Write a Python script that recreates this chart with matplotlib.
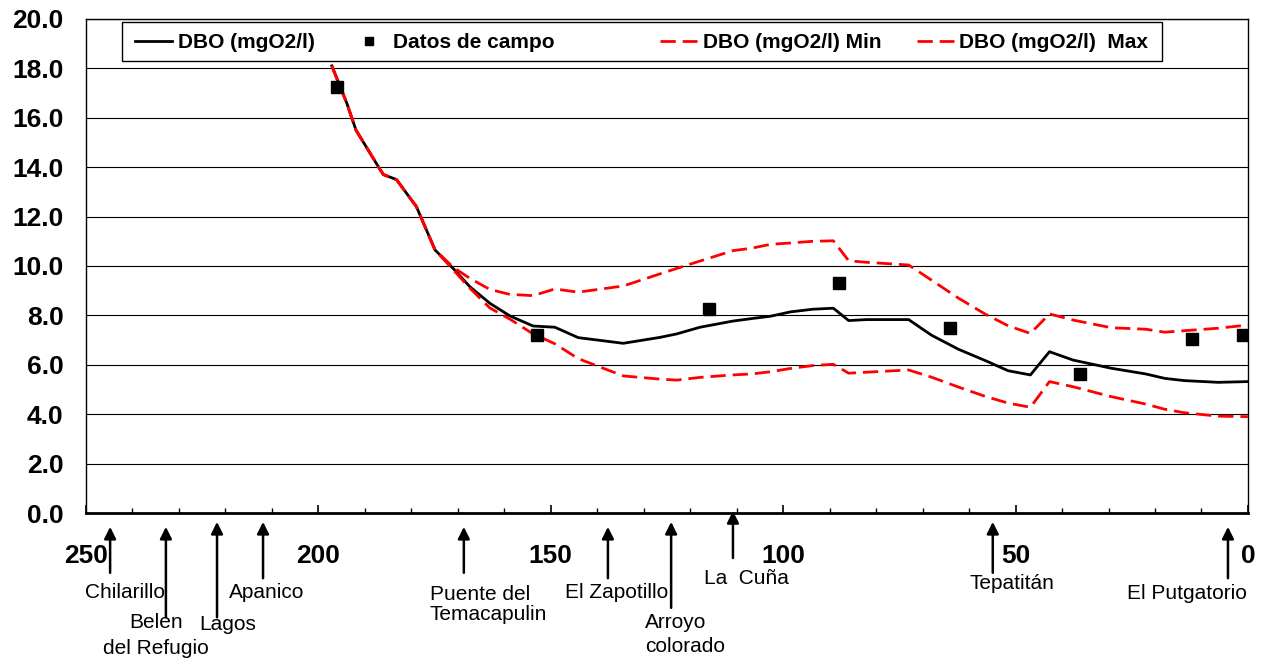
import numpy as np
import matplotlib
matplotlib.use('Agg')
import matplotlib.pyplot as plt
from matplotlib.ticker import MultipleLocator
from matplotlib.patches import Rectangle

plt.rcParams['font.family'] = ['Liberation Sans', 'DejaVu Sans']

# distancia (km) de los nodos del modelo
km = [197.1, 193.9, 191.9, 186.7, 186.0, 183.2, 178.9, 174.9, 171.0, 167.4,
      163.1, 158.8, 153.8, 149.1, 144.1, 134.4, 126.5, 122.9, 117.9, 110.8,
      106.8, 102.6, 98.5, 93.6, 89.2, 85.9, 82.1, 73.0, 68.1, 62.3,
      56.5, 51.6, 46.8, 42.7, 37.6, 29.4, 22.0, 17.9, 13.7, 6.4, 0.0]
dbo = [18.1, 16.6, 15.5, 13.9, 13.7, 13.5, 12.4, 10.65, 9.9, 9.16,
       8.49, 7.98, 7.57, 7.52, 7.1, 6.87, 7.11, 7.25, 7.52, 7.77,
       7.87, 7.97, 8.14, 8.25, 8.29, 7.79, 7.83, 7.83, 7.2, 6.63,
       6.17, 5.76, 5.59, 6.53, 6.19, 5.86, 5.63, 5.45, 5.36, 5.29, 5.32]
dbo_min = [18.1, 16.6, 15.5, 13.9, 13.7, 13.5, 12.4, 10.65, 9.85, 9.1,
           8.3, 7.85, 7.25, 6.85, 6.25, 5.55, 5.42, 5.38, 5.49, 5.59,
           5.63, 5.72, 5.85, 5.97, 6.02, 5.66, 5.7, 5.79, 5.5, 5.1,
           4.72, 4.45, 4.28, 5.32, 5.11, 4.71, 4.41, 4.2, 4.06, 3.92, 3.9]
dbo_max = [18.1, 16.6, 15.5, 13.9, 13.7, 13.5, 12.4, 10.65, 9.95, 9.5,
           9.05, 8.85, 8.8, 9.07, 8.94, 9.19, 9.68, 9.9, 10.2, 10.62,
           10.72, 10.88, 10.93, 11.0, 11.02, 10.21, 10.15, 10.04, 9.43, 8.7,
           8.05, 7.58, 7.27, 8.06, 7.81, 7.5, 7.44, 7.32, 7.38, 7.48, 7.61]

# datos de campo
campo_km = [196.0, 153.0, 116.0, 88.0, 64.1, 36.1, 12.0, 1.1]
campo = [17.25, 7.21, 8.26, 9.31, 7.49, 5.63, 7.04, 7.21]

# estaciones
est_nombre = ['Chilarillo', 'Belen\ndel Refugio', 'Lagos', 'Apanico',
              'Puente del\nTemacapulin', 'El Zapotillo', 'Arroyo\ncolorado',
              'La  Cuña', 'Tepatitán', 'El Putgatorio']
est_km = [244.8, 232.8, 221.8, 211.9, 168.7, 137.7, 124.1, 110.8, 54.9, 4.3]

# posicion de flechas y textos (fraccion de ejes) y alineacion
flecha_punta = [-0.028, -0.028, -0.018, -0.018, -0.028, -0.028, -0.018, 0.004, -0.018, -0.028]
flecha_cola = [-0.121, -0.211, -0.211, -0.132, -0.121, -0.132, -0.192, -0.091, -0.121, -0.132]
texto_km = [241.6, 235.0, 219.4, 211.1, 176.0, 135.8, 129.7, 108.0, 50.8, 13.1]
texto_y = [[-0.16], [-0.221, -0.275], [-0.226], [-0.16], [-0.164, -0.205], [-0.16],
           [-0.221, -0.271], [-0.133], [-0.143], [-0.162]]
texto_ha = ['center', 'center', 'center', 'center', 'left', 'center', 'left',
            'center', 'center', 'center']

fig = plt.figure(figsize=(12.64, 6.61), dpi=100)
ax = fig.add_axes([0.068, 0.2239, 0.9193, 0.7474])

l1, = ax.plot(km, dbo, color='black', lw=2, label='DBO (mgO2/l)', zorder=3)
l2, = ax.plot(campo_km, campo, 's', color='black', ms=8, label='Datos de campo', zorder=5)
l3, = ax.plot(km, dbo_min, color='red', lw=2, dashes=(5.5, 2.5), label='DBO (mgO2/l) Min', zorder=4)
l4, = ax.plot(km, dbo_max, color='red', lw=2, dashes=(5.5, 2.5), label='DBO (mgO2/l)  Max', zorder=4)

ax.set_xlim(250, 0)
ax.set_ylim(0, 20)
ax.xaxis.set_major_locator(MultipleLocator(50))
ax.xaxis.set_minor_locator(MultipleLocator(10))
ax.yaxis.set_major_locator(MultipleLocator(2))
ax.yaxis.set_major_formatter(plt.FormatStrFormatter('%.1f'))
ax.xaxis.set_major_formatter(plt.FormatStrFormatter('%d'))

ax.tick_params(axis='x', which='major', direction='in', length=6, width=1.2,
               pad=22, labelsize=19)
ax.tick_params(axis='x', which='minor', direction='in', length=3.5, width=1)
ax.tick_params(axis='y', length=0, pad=16, labelsize=19)
for lab in ax.get_xticklabels() + ax.get_yticklabels():
    lab.set_fontweight('bold')

ax.grid(axis='y', color='black', lw=0.8)
ax.set_axisbelow(True)
for s in ['top', 'left', 'right']:
    ax.spines[s].set_color('black')
    ax.spines[s].set_linewidth(1)
ax.spines['bottom'].set_linewidth(2)

# leyenda: marco propio y dos grupos de entradas
ax.add_patch(Rectangle((0.031, 0.915), 0.895, 0.079, transform=ax.transAxes,
                       facecolor='white', edgecolor='black', lw=1, zorder=6))
ley_kw = dict(ncol=2, borderaxespad=0, borderpad=0, frameon=False,
              prop={'weight': 'bold', 'size': 15}, handlelength=1.8,
              handletextpad=0.25, columnspacing=1.7, markerscale=0.65)
legA = ax.legend([l1, l2], [l1.get_label(), l2.get_label()], loc='center left',
                 bbox_to_anchor=(0.0422, 0.9525), **ley_kw)
legA.set_zorder(7)
ax.add_artist(legA)
legB = ax.legend([l3, l4], [l3.get_label(), l4.get_label()], loc='center left',
                 bbox_to_anchor=(0.494, 0.9525), **ley_kw)
legB.set_zorder(7)

tr = ax.get_xaxis_transform()
for i in range(len(est_km)):
    ax.annotate('', xy=(est_km[i], flecha_punta[i]), xytext=(est_km[i], flecha_cola[i]),
                xycoords=tr, textcoords=tr, annotation_clip=False,
                arrowprops=dict(arrowstyle='-|>,head_length=0.7,head_width=0.35',
                                color='black', lw=1.8, shrinkA=0, shrinkB=0))
    lineas = est_nombre[i].split('\n')
    for j in range(len(lineas)):
        ax.text(texto_km[i], texto_y[i][j], lineas[j], transform=tr, ha=texto_ha[i],
                va='center', fontsize=15, clip_on=False)

fig.savefig('out.png', dpi=100)
